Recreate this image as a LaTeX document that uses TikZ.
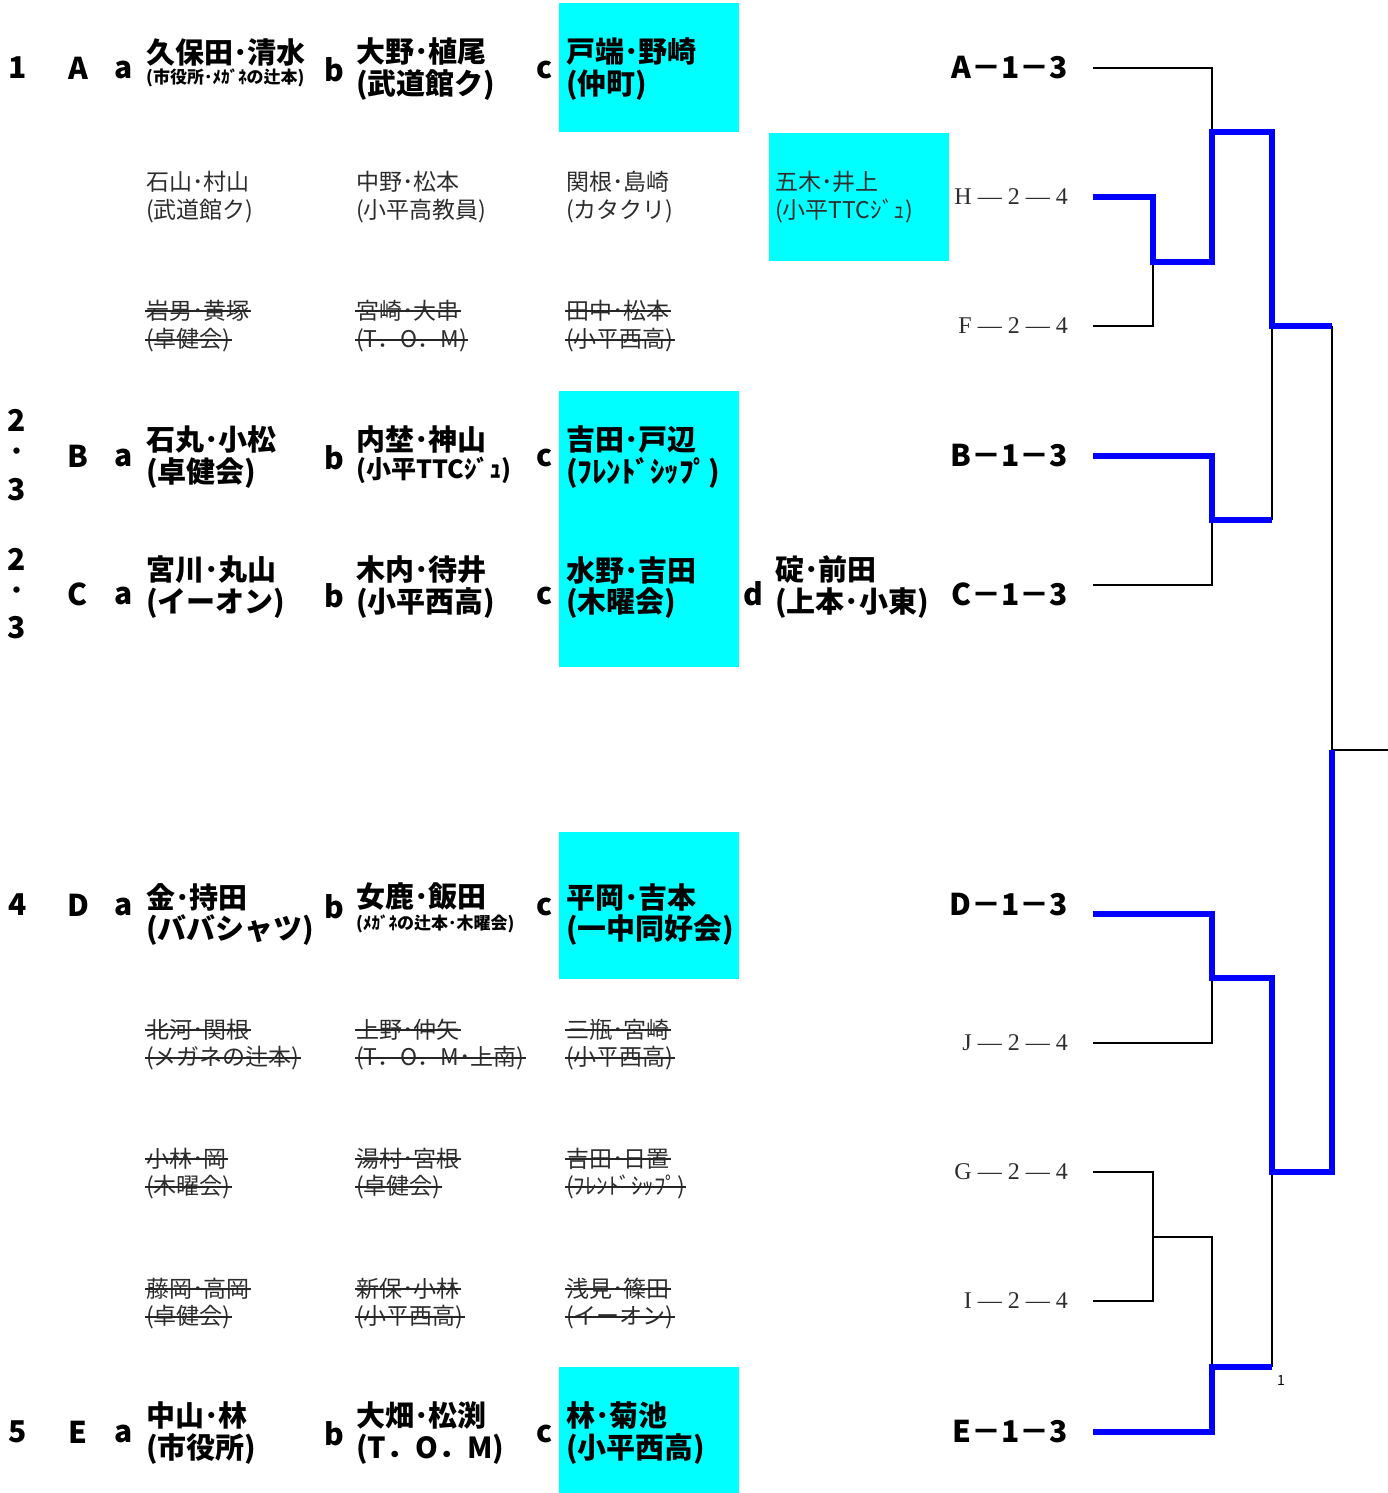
\documentclass[tikz,border=0pt]{standalone}
\usepackage{fontspec}
\usepackage{xcolor}
\usepackage{tikz}
\newfontfamily\jp{Noto Sans CJK JP}
\newfontfamily\lserif{Liberation Serif}
\definecolor{boxcyan}{RGB}{0,255,255}
\definecolor{winblue}{RGB}{0,0,255}
\definecolor{lightink}{RGB}{45,45,45}
\tikzset{
  tag/.style={inner sep=0pt, font=\jp\bfseries\fontsize{30}{30}\selectfont},
  bname/.style={anchor=west, inner sep=0pt, font=\jp\bfseries\fontsize{29}{29}\selectfont},
  bmid/.style={anchor=west, inner sep=0pt, font=\jp\bfseries\fontsize{25}{25}\selectfont},
  bsmall/.style={anchor=west, inner sep=0pt, font=\jp\bfseries\fontsize{17}{17}\selectfont},
  lname/.style={anchor=west, inner sep=0pt, text=lightink, font=\jp\fontsize{23}{23}\selectfont},
  res/.style={anchor=east, inner sep=0pt, font=\jp\bfseries\fontsize{30}{30}\selectfont},
  lres/.style={anchor=east, inner sep=0pt, text=lightink, font=\lserif\fontsize{24}{24}\selectfont},
  cbox/.style={fill=boxcyan, draw=none},
  lose/.style={line width=1.6pt, black},
  win/.style={line width=6pt, winblue},
  strike/.style={line width=1.4pt, black!85},
}
\begin{document}
\begin{tikzpicture}[x=1pt, y=-1pt]
        \useasboundingbox (0,0) rectangle (1388,1493);
        \fill [cbox] (559,3)    rectangle (739,132);                  %A c
        \fill [cbox] (769,133)  rectangle (949,261);                  %H
        \fill [cbox] (559,391)  rectangle (739,667);                  %B c, C c
        \fill [cbox] (559,832)  rectangle (739,979);                  %D c
        \fill [cbox] (559,1367) rectangle (739,1493);                 %E c
        % block A
        \node [tag] (n1)   at (18,68)   {1};
        \node [tag] (gA)   at (78,68)   {A};
        \node [tag] (kAa)  at (124,70)  {a};
        \node [bname]  (Aa)  at (146,52) {久保田･清水};
        \node [bsmall] (Aa2) at (146,78) {(市役所･ﾒｶﾞﾈの辻本)};
        \node [tag] (kAb)  at (334,70)  {b};
        \node [bname]  (Ab)  at (356,52) {大野･植尾};
        \node [bname]  (Ab2) at (356,85) {(武道館ク)};
        \node [tag] (kAc)  at (545,70)  {c};
        \node [bname]  (Ac)  at (566,52) {戸端･野崎};
        \node [bname]  (Ac2) at (566,85) {(仲町)};
        \node [lname] (Pa)  at (146,182) {石山･村山};
        \node [lname] (Pa2) at (146,211) {(武道館ク)};
        \node [lname] (Pb)  at (356,182) {中野･松本};
        \node [lname] (Pb2) at (356,211) {(小平高教員)};
        \node [lname] (Pc)  at (566,182) {関根･島崎};
        \node [lname] (Pc2) at (566,211) {(カタクリ)};
        \node [lname] (Pd)  at (775,182) {五木･井上};
        \node [lname] (Pd2) at (775,211) {(小平TTCｼﾞｭ)};
        \node [lname] (Qa)  at (146,311) {岩男･黄塚};
        \node [lname] (Qa2) at (146,340) {(卓健会)};
        \node [lname] (Qb)  at (356,311) {宮崎･大串};
        \node [lname] (Qb2) at (356,340) {(T．O．M)};
        \node [lname] (Qc)  at (566,311) {田中･松本};
        \node [lname] (Qc2) at (566,340) {(小平西高)};
        % block B
        \node [tag] (n2)   at (17,420)  {2};
        \node [tag] (n2d)  at (17,455)  {･};
        \node [tag] (n2e)  at (17,490)  {3};
        \node [tag] (gB)   at (78,456)  {B};
        \node [tag] (kBa)  at (124,458) {a};
        \node [bname]  (Ba)  at (146,440) {石丸･小松};
        \node [bname]  (Ba2) at (146,473) {(卓健会)};
        \node [tag] (kBb)  at (334,458) {b};
        \node [bname]  (Bb)  at (356,440) {内埜･神山};
        \node [bmid]   (Bb2) at (356,470) {(小平TTCｼﾞｭ)};
        \node [tag] (kBc)  at (545,458) {c};
        \node [bname]  (Bc)  at (566,440) {吉田･戸辺};
        \node [bname]  (Bc2) at (566,473) {(ﾌﾚﾝﾄﾞｼｯﾌﾟ)};
        % block C
        \node [tag] (n3)   at (17,559)  {2};
        \node [tag] (n3d)  at (17,594)  {･};
        \node [tag] (n3e)  at (17,628)  {3};
        \node [tag] (gC)   at (78,594)  {C};
        \node [tag] (kCa)  at (124,596) {a};
        \node [bname]  (Ca)  at (146,570) {宮川･丸山};
        \node [bname]  (Ca2) at (146,603) {(イーオン)};
        \node [tag] (kCb)  at (334,596) {b};
        \node [bname]  (Cb)  at (356,570) {木内･待井};
        \node [bname]  (Cb2) at (356,603) {(小平西高)};
        \node [tag] (kCc)  at (545,596) {c};
        \node [bname]  (Cc)  at (566,570) {水野･吉田};
        \node [bname]  (Cc2) at (566,603) {(木曜会)};
        \node [tag] (kCd)  at (753,594) {d};
        \node [bname]  (Cd)  at (775,570) {碇･前田};
        \node [bname]  (Cd2) at (775,603) {(上本･小東)};
        % block D
        \node [tag] (n4)   at (18,905)  {4};
        \node [tag] (gD)   at (78,905)  {D};
        \node [tag] (kDa)  at (124,907) {a};
        \node [bname]  (Da)  at (146,897) {金･持田};
        \node [bname]  (Da2) at (146,930) {(ババシャツ)};
        \node [tag] (kDb)  at (334,907) {b};
        \node [bname]  (Db)  at (356,897) {女鹿･飯田};
        \node [bsmall] (Db2) at (356,924) {(ﾒｶﾞﾈの辻本･木曜会)};
        \node [tag] (kDc)  at (545,907) {c};
        \node [bname]  (Dc)  at (566,897) {平岡･吉本};
        \node [bname]  (Dc2) at (566,930) {(一中同好会)};
        \node [lname] (Ra)  at (146,1030) {北河･関根};
        \node [lname] (Ra2) at (146,1058) {(メガネの辻本)};
        \node [lname] (Rb)  at (356,1030) {上野･仲矢};
        \node [lname] (Rb2) at (356,1058) {(T．O．M･上南)};
        \node [lname] (Rc)  at (566,1030) {三瓶･宮崎};
        \node [lname] (Rc2) at (566,1058) {(小平西高)};
        \node [lname] (Sa)  at (146,1159) {小林･岡};
        \node [lname] (Sa2) at (146,1187) {(木曜会)};
        \node [lname] (Sb)  at (356,1159) {湯村･宮根};
        \node [lname] (Sb2) at (356,1187) {(卓健会)};
        \node [lname] (Sc)  at (566,1159) {吉田･日置};
        \node [lname] (Sc2) at (566,1187) {(ﾌﾚﾝﾄﾞｼｯﾌﾟ)};
        \node [lname] (Ta)  at (146,1289) {藤岡･高岡};
        \node [lname] (Ta2) at (146,1317) {(卓健会)};
        \node [lname] (Tb)  at (356,1289) {新保･小林};
        \node [lname] (Tb2) at (356,1317) {(小平西高)};
        \node [lname] (Tc)  at (566,1289) {浅見･篠田};
        \node [lname] (Tc2) at (566,1317) {(イーオン)};
        % block E
        \node [tag] (n5)   at (18,1432) {5};
        \node [tag] (gE)   at (78,1432) {E};
        \node [tag] (kEa)  at (124,1434) {a};
        \node [bname]  (Ea)  at (146,1415) {中山･林};
        \node [bname]  (Ea2) at (146,1449) {(市役所)};
        \node [tag] (kEb)  at (334,1434) {b};
        \node [bname]  (Eb)  at (356,1415) {大畑･松渕};
        \node [bname]  (Eb2) at (356,1449) {(T．O．M)};
        \node [tag] (kEc)  at (545,1434) {c};
        \node [bname]  (Ec)  at (566,1415) {林･菊池};
        \node [bname]  (Ec2) at (566,1449) {(小平西高)};
        % withdrawn pairs
        \foreach \s in {Qa,Qa2,Qb,Qb2,Qc,Qc2,Ra,Ra2,Rb,Rb2,Rc,Rc2,Sa,Sa2,Sb,Sb2,Sc,Sc2,Ta,Ta2,Tb,Tb2,Tc,Tc2}
          \draw [strike] ([xshift=-1pt]\s.west) -- ([xshift=1pt]\s.east);
        % draw
        \node [res]  (tA) at (1068,68)   {A－1－3};
        \node [lres] (tH) at (1068,197)  {H — 2 — 4};
        \node [lres] (tF) at (1068,326)  {F — 2 — 4};
        \node [res]  (tB) at (1068,456)  {B－1－3};
        \node [res]  (tC) at (1068,594)  {C－1－3};
        \node [res]  (tD) at (1068,905)  {D－1－3};
        \node [lres] (tJ) at (1068,1043) {J — 2 — 4};
        \node [lres] (tG) at (1068,1172) {G — 2 — 4};
        \node [lres] (tI) at (1068,1301) {I — 2 — 4};
        \node [res]  (tE) at (1068,1432) {E－1－3};
        \node [inner sep=0pt, font=\jp\fontsize{14}{14}\selectfont] (one) at (1281,1380) {1};
        \coordinate (sA) at (1093,68);
        \coordinate (sH) at (1093,197);
        \coordinate (sF) at (1093,326);
        \coordinate (sB) at (1093,456);
        \coordinate (sC) at (1093,585);
        \coordinate (sD) at (1093,914);
        \coordinate (sJ) at (1093,1043);
        \coordinate (sG) at (1093,1172);
        \coordinate (sI) at (1093,1301);
        \coordinate (sE) at (1093,1432);
        \coordinate (jHF)  at (1153,262);
        \coordinate (jAH)  at (1212,132);
        \coordinate (jBC)  at (1212,520);
        \coordinate (jTop) at (1272,326);
        \coordinate (jDJ)  at (1212,978);
        \coordinate (jGI)  at (1153,1237);
        \coordinate (jGIE) at (1212,1367);
        \coordinate (jBot) at (1272,1172);
        \coordinate (jFin) at (1332,750);
        \coordinate (out)  at (1388,750);
        \draw [lose] (sA) -| (jAH);                                   %
        \draw [lose] (sF) -| (jHF);                                   %
        \draw [lose] (sC) -| (jBC);                                   %
        \draw [lose] (jBC -| jTop) -- (jTop);                         %
        \draw [lose] (jTop -| jFin) -- (jFin) -- (out);               %
        \draw [lose] (sJ) -| (jDJ);                                   %
        \draw [lose] (sG) -| (jGI);                                   %
        \draw [lose] (sI) -| (jGI);                                   %
        \draw [lose] (jGI) -| (jGIE);                                 %
        \draw [lose] (jGIE -| jBot) -- (jBot);                        %
        \draw [win]  (sH) -| (jHF) -| (jAH) -| (jTop) -- (jTop -| jFin); %H up
        \draw [win]  (sB) -| (jBC) -- (jBC -| jTop);                  %B
        \draw [win]  (sD) -| (jDJ) -| (jBot) -| (jFin);               %D up
        \draw [win]  (sE) -| (jGIE) -- (jGIE -| jBot);                %E
\end{tikzpicture}
\end{document}
